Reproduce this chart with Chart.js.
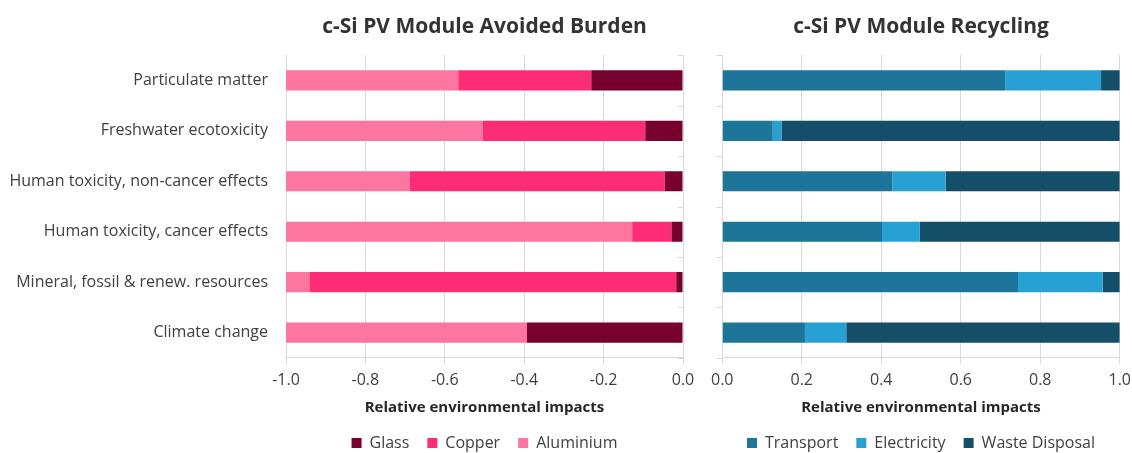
<!DOCTYPE html>
<html><head><meta charset="utf-8">
<script src="https://cdn.jsdelivr.net/npm/chart.js@4"></script>
<style>
html,body{margin:0;padding:0;background:#fff;overflow:hidden;width:1132px;height:453px}
#c1{position:absolute;left:0;top:0}
#c2{position:absolute;left:704px;top:0}
</style></head><body>
<canvas id="c1" width="704" height="461"></canvas>
<canvas id="c2" width="434" height="461"></canvas>
<script>
const categories = ["Particulate matter", "Freshwater ecotoxicity", "Human toxicity, non-cancer effects", "Human toxicity, cancer effects", "Mineral, fossil & renew. resources", "Climate change"];
const glass = [-0.231, -0.095, -0.046, -0.029, -0.017, -0.393];
const copper = [-0.335, -0.410, -0.642, -0.099, -0.924, 0];
const aluminium = [-0.434, -0.495, -0.312, -0.872, -0.059, -0.607];
const transport = [0.712, 0.127, 0.428, 0.402, 0.744, 0.208];
const electricity = [0.241, 0.022, 0.134, 0.095, 0.213, 0.104];
const wasteDisposal = [0.047, 0.851, 0.438, 0.503, 0.043, 0.688];
const leftTicks = [-1.0, -0.8, -0.6, -0.4, -0.2, 0.0];
const rightTicks = [0.0, 0.2, 0.4, 0.6, 0.8, 1.0];
const titles = ["c-Si PV Module Avoided Burden", "c-Si PV Module Recycling"];
const axisTitle = "Relative environmental impacts";

const FONT = "'Open Sans', sans-serif";
const TXT = '#404040';
const GRID = '#d9d9d9';

const catTicks = {
  id: 'catTicks',
  afterDraw(chart) {
    const x = Math.round(chart.scales.x.getPixelForValue(0)) + 0.5;
    const y = chart.scales.y;
    const n = categories.length;
    const ctx = chart.ctx;
    ctx.save();
    ctx.strokeStyle = GRID;
    ctx.lineWidth = 1;
    ctx.beginPath();
    for (let i = 0; i <= n; i++) {
      const py = Math.round(y.top + (y.bottom - y.top) * i / n) + 0.5;
      ctx.moveTo(x - 6, py);
      ctx.lineTo(x, py);
    }
    ctx.stroke();
    ctx.restore();
  }
};

function makeChart(id, datasets, ticks, title, yWidth, padRight, showLabels) {
  return new Chart(document.getElementById(id), {
    type: 'bar',
    data: { labels: categories, datasets },
    plugins: [catTicks],
    options: {
      responsive: false,
      animation: false,
      indexAxis: 'y',
      layout: { padding: { left: 0, right: padRight, top: 0, bottom: 0 } },
      datasets: { bar: { barPercentage: 0.4, categoryPercentage: 1.0 } },
      scales: {
        x: {
          stacked: true,
          min: ticks[0], max: ticks[ticks.length - 1],
          afterBuildTicks(scale) { scale.ticks = ticks.map(v => ({ value: v })); },
          ticks: {
            font: { family: FONT, size: 16 }, color: TXT, padding: 7,
            maxRotation: 0,
            callback: v => (Math.abs(v) < 1e-9 ? 0 : v).toFixed(1)
          },
          grid: { color: GRID, tickLength: 6, drawTicks: true },
          border: { color: GRID },
          title: {
            display: true, text: axisTitle, color: '#262626',
            font: { family: FONT, size: 15, weight: 'bold' },
            padding: { top: 2, bottom: 0 }
          }
        },
        y: {
          stacked: true,
          afterFit(scale) { scale.width = yWidth; },
          ticks: { display: showLabels, font: { family: FONT, size: 16 }, color: TXT, padding: 18 },
          grid: { display: false, drawTicks: false },
          border: { display: false }
        }
      },
      plugins: {
        title: {
          display: true, text: title, fullSize: false, color: '#333333',
          font: { family: FONT, size: 21, weight: 'bold' },
          padding: { top: 14, bottom: 16 }
        },
        legend: {
          position: 'bottom', fullSize: false,
          labels: {
            boxWidth: 10, boxHeight: 10, padding: 18, color: TXT,
            font: { family: FONT, size: 16 }
          }
        },
        tooltip: { enabled: false }
      }
    }
  });
}

makeChart('c1', [
  { label: 'Glass', data: glass, backgroundColor: '#77002e' },
  { label: 'Copper', data: copper, backgroundColor: '#fe2c74' },
  { label: 'Aluminium', data: aluminium, backgroundColor: '#fd75a1' }
], leftTicks, titles[0], 286, 21, true);

makeChart('c2', [
  { label: 'Transport', data: transport, backgroundColor: '#1d7599' },
  { label: 'Electricity', data: electricity, backgroundColor: '#27a0d4' },
  { label: 'Waste Disposal', data: wasteDisposal, backgroundColor: '#154e69' }
], rightTicks, titles[1], 18, 7, false);
</script>
</body></html>
